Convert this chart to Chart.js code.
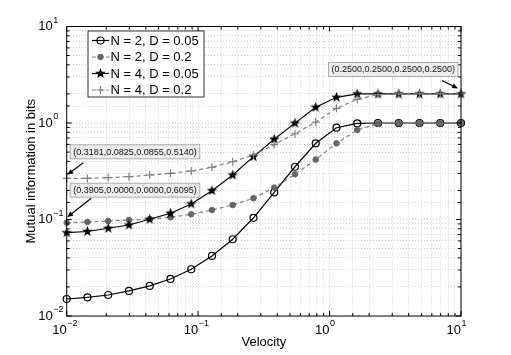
<!DOCTYPE html>
<html>
<head>
<meta charset="utf-8">
<script src="https://cdn.jsdelivr.net/npm/chart.js@4.4.0/dist/chart.umd.min.js"></script>
<style>
  body { margin: 0; background: #fff; }
</style>
</head>
<body>
<canvas id="mi-chart" width="511" height="355"></canvas>
<script>
const velocity = [0.01, 0.01438, 0.02069, 0.02976, 0.04281, 0.06158, 0.08859, 0.1274, 0.1833, 0.2637,
                  0.3793, 0.5456, 0.7848, 1.129, 1.624, 2.336, 3.360, 4.833, 6.952, 10];

const miN2D005 = [0.0150, 0.0156, 0.0165, 0.0182, 0.0205, 0.0242, 0.0305, 0.0419, 0.0624, 0.104,
                  0.191, 0.352, 0.616, 0.894, 0.99, 1, 1, 1, 1, 1];
const miN2D02  = [0.0927, 0.0942, 0.0964, 0.0988, 0.101, 0.1055, 0.1133, 0.1254, 0.1413, 0.166,
                  0.214, 0.294, 0.418, 0.616, 0.846, 0.99, 1, 1, 1, 1];
const miN4D005 = [0.0730, 0.0751, 0.0811, 0.0877, 0.1005, 0.116, 0.145, 0.199, 0.289, 0.448,
                  0.678, 0.997, 1.455, 1.846, 2, 2, 2, 2, 2, 2];
const miN4D02  = [0.267, 0.267, 0.271, 0.278, 0.289, 0.301, 0.318, 0.348, 0.397, 0.466,
                  0.598, 0.774, 1.023, 1.42, 1.76, 1.97, 2, 2, 2, 2];

const seriesLabels = ['N = 2, D = 0.05', 'N = 2, D = 0.2', 'N = 4, D = 0.05', 'N = 4, D = 0.2'];
const decadeTicks = [0.01, 0.1, 1, 10];
const noteTexts = ['(0.3181,0.0825,0.0855,0.5140)', '(0.3905,0.0000,0.0000,0.6095)', '(0.2500,0.2500,0.2500,0.2500)'];

const FONT = "'Liberation Sans', Arial, Helvetica, sans-serif";

function toXY(vals) {
    return velocity.map((v, i) => ({ x: v, y: vals[i] }));
}

// filled pentagram marker
function makeStar(r) {
    const c = document.createElement('canvas');
    const s = Math.ceil(r * 2 + 2);
    c.width = s;
    c.height = s;
    const g = c.getContext('2d');
    g.beginPath();
    for (let i = 0; i < 10; i++) {
        const rad = i % 2 === 0 ? r : r * 0.42;
        const a = -Math.PI / 2 + i * Math.PI / 5;
        const px = s / 2 + rad * Math.cos(a);
        const py = s / 2 + rad * Math.sin(a);
        if (i === 0) g.moveTo(px, py); else g.lineTo(px, py);
    }
    g.closePath();
    g.fillStyle = '#000';
    g.fill();
    return c;
}
const starImg = makeStar(5.5);

function isDecade(v) {
    const l = Math.log10(v);
    return Math.abs(l - Math.round(l)) < 1e-6;
}

function arrow(ctx, x1, y1, x2, y2) {
    const ang = Math.atan2(y2 - y1, x2 - x1);
    ctx.beginPath();
    ctx.moveTo(x1, y1);
    ctx.lineTo(x2 - 4 * Math.cos(ang), y2 - 4 * Math.sin(ang));
    ctx.stroke();
    ctx.beginPath();
    ctx.moveTo(x2, y2);
    ctx.lineTo(x2 - 6 * Math.cos(ang) + 2.5 * Math.sin(ang), y2 - 6 * Math.sin(ang) - 2.5 * Math.cos(ang));
    ctx.lineTo(x2 - 6 * Math.cos(ang) - 2.5 * Math.sin(ang), y2 - 6 * Math.sin(ang) + 2.5 * Math.cos(ang));
    ctx.closePath();
    ctx.fill();
}

const decor = {
    id: 'decor',
    afterDraw(chart) {
        const { ctx, chartArea: a, scales: { x, y } } = chart;
        ctx.save();

        // axes box
        ctx.strokeStyle = '#000';
        ctx.lineWidth = 1;
        ctx.strokeRect(a.left, a.top, a.right - a.left, a.bottom - a.top);

        // inner tick marks on all four sides
        ctx.beginPath();
        x.ticks.forEach(t => {
            const px = x.getPixelForValue(t.value);
            const len = isDecade(t.value) ? 5 : 3;
            ctx.moveTo(px, a.bottom); ctx.lineTo(px, a.bottom - len);
            ctx.moveTo(px, a.top); ctx.lineTo(px, a.top + len);
        });
        y.ticks.forEach(t => {
            const py = y.getPixelForValue(t.value);
            const len = isDecade(t.value) ? 5 : 3;
            ctx.moveTo(a.left, py); ctx.lineTo(a.left + len, py);
            ctx.moveTo(a.right, py); ctx.lineTo(a.right - len, py);
        });
        ctx.stroke();

        // tick labels 10^n
        ctx.fillStyle = '#000';
        ctx.textBaseline = 'middle';
        decadeTicks.forEach(v => {
            const ex = Math.round(Math.log10(v));
            const exTxt = ex < 0 ? '\u2212' + (-ex) : String(ex);
            const px = x.getPixelForValue(v);
            ctx.font = '13px ' + FONT;
            ctx.textAlign = 'right';
            ctx.fillText('10', px, a.bottom + 14);
            ctx.font = '9px ' + FONT;
            ctx.textAlign = 'left';
            ctx.fillText(exTxt, px + 0.5, a.bottom + 7.5);

            const py = y.getPixelForValue(v);
            ctx.font = '13px ' + FONT;
            ctx.textAlign = 'right';
            ctx.fillText('10', a.left - 14, py);
            ctx.font = '9px ' + FONT;
            ctx.textAlign = 'left';
            ctx.fillText(exTxt, a.left - 13.5, py - 6);
        });

        // legend
        const lx = 88, ly = 31, lw = 116, lh = 66;
        ctx.fillStyle = '#fff';
        ctx.fillRect(lx, ly, lw, lh);
        ctx.strokeStyle = '#000';
        ctx.lineWidth = 0.8;
        ctx.strokeRect(lx, ly, lw, lh);
        chart.data.datasets.forEach((ds, i) => {
            const ry = ly + 9.5 + i * 16.5;
            ctx.save();
            ctx.strokeStyle = ds.borderColor;
            ctx.lineWidth = ds.borderWidth;
            ctx.setLineDash(ds.borderDash || []);
            ctx.beginPath();
            ctx.moveTo(lx + 4, ry);
            ctx.lineTo(lx + 21, ry);
            ctx.stroke();
            ctx.setLineDash([]);
            ctx.strokeStyle = ds.pointBorderColor || ds.borderColor;
            ctx.fillStyle = ds.pointBackgroundColor || ds.borderColor;
            ctx.lineWidth = ds.pointBorderWidth || 1;
            Chart.helpers.drawPoint(ctx, {
                pointStyle: ds.pointStyle, radius: ds.pointRadius, rotation: 0,
                borderWidth: ds.pointBorderWidth || 1
            }, lx + 12.5, ry);
            ctx.restore();
            ctx.fillStyle = '#000';
            ctx.font = '13px ' + FONT;
            ctx.textAlign = 'left';
            ctx.textBaseline = 'middle';
            ctx.fillText(ds.label, lx + 22.5, ry + 0.5);
        });

        // annotations: [series, point, tip dx, tip dy, tail dx, tail dy, box edge dx, box top dy, align]
        const notes = [
            [3, 0, 0.5, -3.5, 16.5, -15.5, 3.5, -33.5, 'left'],
            [1, 0, 0.5, -5.5, 24.5, -24.5, 3.5, -39.5, 'left'],
            [2, 19, -3, -5.5, -19, -13.5, -3, -31.5, 'right']
        ];
        notes.forEach((n, i) => {
            const pt = chart.data.datasets[n[0]].data[n[1]];
            const px = x.getPixelForValue(pt.x);
            const py = y.getPixelForValue(pt.y);
            ctx.font = '9px ' + FONT;
            const bw = ctx.measureText(noteTexts[i]).width + 6;
            const bh = 14;
            const bx = n[8] === 'left' ? px + n[6] : px + n[6] - bw;
            const by = py + n[7];
            ctx.fillStyle = '#ededed';
            ctx.fillRect(bx, by, bw, bh);
            ctx.strokeStyle = '#9a9a9a';
            ctx.lineWidth = 0.8;
            ctx.strokeRect(bx, by, bw, bh);
            ctx.fillStyle = '#111';
            ctx.textAlign = 'center';
            ctx.textBaseline = 'middle';
            ctx.fillText(noteTexts[i], bx + bw / 2, by + bh / 2 + 0.5);
            ctx.strokeStyle = '#000';
            ctx.fillStyle = '#000';
            ctx.lineWidth = 1.2;
            arrow(ctx, px + n[4], py + n[5], px + n[2], py + n[3]);
        });

        ctx.restore();
    }
};

const gridStyle = { color: '#d0d0d0', lineWidth: 1, drawTicks: false };

const config = {
    type: 'line',
    data: {
        datasets: [{
            label: seriesLabels[0],
            data: toXY(miN2D005),
            borderColor: '#000',
            borderWidth: 1.2,
            pointStyle: 'circle',
            pointRadius: 3.5,
            pointBorderColor: '#000',
            pointBackgroundColor: 'rgba(0,0,0,0)',
            pointBorderWidth: 1.2,
            order: 4,
            clip: false
        }, {
            label: seriesLabels[1],
            data: toXY(miN2D02),
            borderColor: '#808080',
            borderDash: [4, 3],
            borderWidth: 1.2,
            pointStyle: 'circle',
            pointRadius: 2.8,
            pointBorderColor: '#666',
            pointBackgroundColor: '#666',
            pointBorderWidth: 1,
            order: 3,
            clip: false
        }, {
            label: seriesLabels[2],
            data: toXY(miN4D005),
            borderColor: '#000',
            borderWidth: 1.2,
            pointStyle: starImg,
            pointRadius: 5,
            order: 2,
            clip: false
        }, {
            label: seriesLabels[3],
            data: toXY(miN4D02),
            borderColor: '#808080',
            borderDash: [4, 3],
            borderWidth: 1.2,
            pointStyle: 'cross',
            pointRadius: 4,
            pointBorderColor: '#808080',
            pointBorderWidth: 1.2,
            order: 1,
            clip: false
        }]
    },
    options: {
        responsive: false,
        animation: false,
        layout: { padding: { top: 26.5, right: 50, left: 0, bottom: 0 } },
        plugins: { legend: { display: false }, tooltip: { enabled: false } },
        scales: {
            x: {
                type: 'logarithmic',
                min: 0.01,
                max: 10,
                ticks: { display: false, autoSkip: false },
                grid: gridStyle,
                border: { display: false, dash: [1, 2] },
                title: { display: true, text: 'Velocity', color: '#000',
                         font: { family: FONT, size: 13 }, padding: { top: 0, bottom: 4.7 } },
                afterFit: s => { s.height = 39; }
            },
            y: {
                type: 'logarithmic',
                min: 0.01,
                max: 10,
                ticks: { display: false, autoSkip: false },
                grid: gridStyle,
                border: { display: false, dash: [1, 2] },
                title: { display: true, text: 'Mutual information in bits', color: '#000',
                         font: { family: FONT, size: 13 }, padding: { top: 23.2, bottom: 0 } },
                afterFit: s => { s.width = 66.7; }
            }
        }
    },
    plugins: [decor]
};

let ctx = document.getElementById('mi-chart').getContext('2d');
new Chart(ctx, config);
</script>
</body>
</html>
